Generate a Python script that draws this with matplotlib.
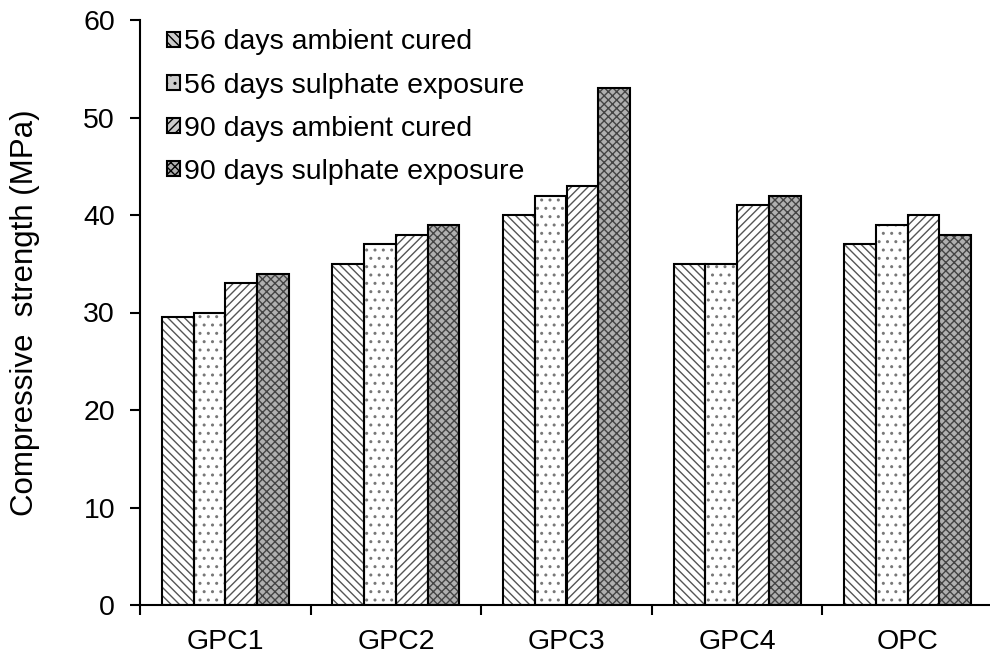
import numpy as np
import matplotlib
matplotlib.use("Agg")
import matplotlib.pyplot as plt
from matplotlib.ticker import FixedLocator, NullFormatter
from matplotlib.patches import Patch

plt.rcParams['font.family'] = ['Liberation Sans', 'DejaVu Sans']
plt.rcParams['hatch.linewidth'] = 1.0

mixes = ["GPC1", "GPC2", "GPC3", "GPC4", "OPC"]
amb_56 = [29.5, 35, 40, 35, 37]
sul_56 = [30, 37, 42, 35, 39]
amb_90 = [33, 38, 43, 41, 40]
sul_90 = [34, 39, 53, 42, 38]

labels = ["56 days ambient cured", "56 days sulphate exposure",
          "90 days ambient cured", "90 days sulphate exposure"]
series = [amb_56, sul_56, amb_90, sul_90]
hatches = ["\\\\\\\\", "..", "////", "xxxx"]
fills = ["white", "white", "white", "#b0b0b0"]
hatch_cols = ["#555555", "#777777", "#555555", "#444444"]

FS = 20.5

fig = plt.figure(figsize=(9.9, 6.57), dpi=100)
ax = fig.add_axes([140/990, 1-605/657, 853/990, 585/657])

x = np.arange(len(mixes))
w = 0.186
for i, (vals, lab) in enumerate(zip(series, labels)):
    ax.bar(x + (i - 1.5) * w, vals, w, facecolor=fills[i], edgecolor=hatch_cols[i],
           hatch=hatches[i], linewidth=0, label=lab, zorder=2)
    # black outline drawn on top of the hatch
    ax.bar(x + (i - 1.5) * w, vals, w, facecolor="none", edgecolor="black",
           linewidth=1.5, zorder=3)

ax.set_xlim(-0.5, 4.5)
ax.set_ylim(0, 60)
ax.set_yticks(range(0, 61, 10))
ax.set_xticks(x)
ax.set_xticklabels(mixes, fontsize=FS)
ax.tick_params(axis='x', which='major', length=0, pad=17)
ax.xaxis.set_minor_locator(FixedLocator(np.arange(-0.5, 4.6, 1)))
ax.xaxis.set_minor_formatter(NullFormatter())
ax.tick_params(axis='x', which='minor', length=7, width=1.5, direction='out')
ax.tick_params(axis='y', length=7, width=1.5, direction='out', labelsize=FS, pad=11)

for s in ["top", "right"]:
    ax.spines[s].set_visible(False)
for s in ["left", "bottom"]:
    ax.spines[s].set_linewidth(1.5)

ax.set_ylabel("Compressive  strength (MPa)", fontsize=22.5)
ax.yaxis.set_label_coords(-100/853, 0.5)

# legend handles: small outlined squares with the series fills
handles = [Patch(facecolor=fills[i] if i == 3 else "#cccccc", edgecolor="black",
                 hatch=hatches[i], linewidth=1.5)
           for i in range(4)]
ax.legend(handles, labels, loc="upper left", bbox_to_anchor=(0.012, 1.013), frameon=False,
          fontsize=FS, handlelength=0.45, handleheight=0.45, handletextpad=0.15,
          labelspacing=0.6, borderaxespad=0.2)

fig.savefig("out.png", dpi=100)
